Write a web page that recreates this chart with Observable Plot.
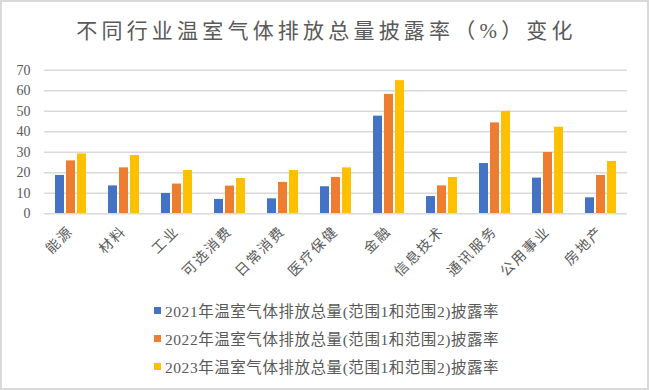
<!DOCTYPE html>
<html>
<head>
<meta charset="utf-8">
<script src="https://cdn.jsdelivr.net/npm/d3@7"></script>
<script src="https://cdn.jsdelivr.net/npm/@observablehq/plot@0.6"></script>
<style>
  html, body { margin: 0; padding: 0; background: #fff; }
  #wrap { position: relative; width: 649px; height: 390px; overflow: hidden; background: #fff; }
  #frame { position: absolute; left: 0; top: 0; width: 649px; height: 390px; box-sizing: border-box; border: 2px solid #d9d9d9; pointer-events: none; }
  #title { position: absolute; left: 2px; width: 649px; top: 16px; text-align: center; font-family: "Liberation Serif", "Noto Sans CJK SC", serif; font-size: 21px; letter-spacing: 4.2px; color: #595959; line-height: 30px; }
  #chart { position: absolute; left: 0; top: 55px; }
  #chart svg g[aria-label="fx-axis tick label"] text { letter-spacing: 2px; }
  .leg { position: absolute; left: 154px; height: 20px; display: flex; align-items: center; font-family: "Liberation Serif", "Noto Sans CJK SC", serif; font-size: 15.5px; letter-spacing: 0.55px; color: #595959; white-space: nowrap; }
  .leg .sw { width: 7px; height: 7px; margin-right: 4px; flex: none; }
</style>
</head>
<body>
<div id="wrap">
  <div id="title"></div>
  <div id="chart"></div>
  <div id="legend"></div>
  <div id="frame"></div>
</div>
<script>
const titleText = "不同行业温室气体排放总量披露率（%）变化";
const categories = ["能源","材料","工业","可选消费","日常消费","医疗保健","金融","信息技术","通讯服务","公用事业","房地产"];
const years = ["2021","2022","2023"];
const seriesNames = [
  "2021年温室气体排放总量(范围1和范围2)披露率",
  "2022年温室气体排放总量(范围1和范围2)披露率",
  "2023年温室气体排放总量(范围1和范围2)披露率"
];
const v2021 = [18.7, 13.6, 9.9, 7.0, 7.3, 13.2, 47.6, 8.4, 24.5, 17.4, 7.8];
const v2022 = [25.8, 22.4, 14.5, 13.5, 15.3, 17.7, 58.2, 13.6, 44.3, 29.9, 18.7];
const v2023 = [29.2, 28.4, 21.1, 17.2, 21.1, 22.4, 64.9, 17.7, 49.9, 42.2, 25.5];
const yTicks = [0, 10, 20, 30, 40, 50, 60, 70];
const colors = ["#4472C4", "#ED7D31", "#FFC000"];

const valuesBySeries = [v2021, v2022, v2023];
const data = [];
categories.forEach((c, i) => {
  years.forEach((y, j) => {
    data.push({category: c, year: y, series: seriesNames[j], value: valuesBySeries[j][i]});
  });
});

document.getElementById("title").textContent = titleText;

const chart = Plot.plot({
  width: 649,
  height: 230,
  marginLeft: 42,
  marginRight: 21,
  marginTop: 14.7,
  marginBottom: 71.7,
  style: {fontFamily: "'Liberation Serif', 'Noto Sans CJK SC', serif", fontSize: "14px", color: "#595959", background: "transparent"},
  fx: {domain: categories, padding: 0, label: null, tickRotate: -45, tickSize: 0, tickPadding: 15},
  x: {domain: years, paddingInner: 0.15, paddingOuter: 0.87, axis: null},
  y: {domain: [0, 70], ticks: yTicks, tickSize: 0, tickPadding: 14, label: null},
  color: {domain: seriesNames, range: colors},
  marks: [
    Plot.ruleY(yTicks.filter(d => d > 0), {stroke: "#d9d9d9", strokeWidth: 1.5}),
    Plot.barY(data, {fx: "category", x: "year", y: "value", fill: "series"}),
    Plot.ruleY([0], {stroke: "#d9d9d9", strokeWidth: 1.5})
  ]
});
document.getElementById("chart").appendChild(chart);
chart.querySelectorAll("text").forEach(t => {
  if (categories.includes(t.textContent)) t.style.letterSpacing = "2px";
});

const legend = document.getElementById("legend");
const rowCenters = [310, 338, 366];
seriesNames.forEach((s, i) => {
  const row = document.createElement("div");
  row.className = "leg";
  row.style.top = (rowCenters[i] - 10) + "px";
  const sw = document.createElement("span");
  sw.className = "sw";
  sw.style.background = colors[i];
  const t = document.createElement("span");
  t.textContent = s;
  row.appendChild(sw);
  row.appendChild(t);
  legend.appendChild(row);
});
</script>
</body>
</html>
